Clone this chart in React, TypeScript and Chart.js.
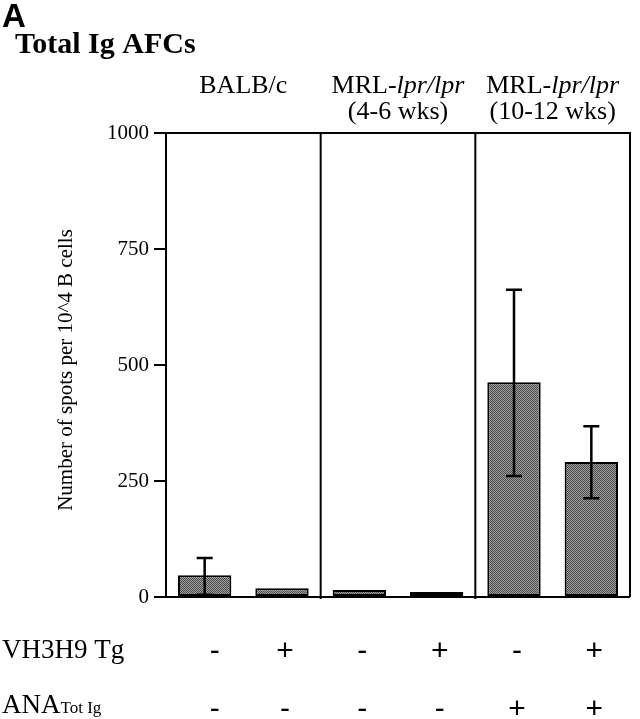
import React, { useEffect, useRef } from "react";
import { Chart, registerables } from "chart.js";

Chart.register(...registerables);

// ---- Data ----
const categories = [
  "BALB/c VH3H9-",
  "BALB/c VH3H9+",
  "MRL 4-6 VH3H9-",
  "MRL 4-6 VH3H9+",
  "MRL 10-12 VH3H9-",
  "MRL 10-12 VH3H9+",
];
const meanValues = [47, 19, 15, 11, 463, 291];
const errUpper: (number | null)[] = [84, null, null, null, 662, 368];
const errLower: (number | null)[] = [5, null, null, null, 261, 213];
const vh3h9Row = ["-", "+", "-", "+", "-", "+"];
const anaRow = ["-", "-", "-", "-", "+", "+"];
const yTickValues = [0, 250, 500, 750, 1000];
const panelStarts = [0, 2, 4];
const panelEnds = [1, 3, 5];
const panelLine1: { normal: string; italic: string }[] = [
  { normal: "BALB/c", italic: "" },
  { normal: "MRL-", italic: "lpr/lpr" },
  { normal: "MRL-", italic: "lpr/lpr" },
];
const panelLine2 = ["", "(4-6 wks)", "(10-12 wks)"];
const panelLabel = "A";
const chartTitle = "Total Ig AFCs";
const yAxisTitle = "Number of spots per 10^4 B cells";
const rowLabel1 = "VH3H9 Tg";
const rowLabel2Main = "ANA";
const rowLabel2Sub = "Tot Ig";

const SERIF = '"Liberation Serif", "Times New Roman", serif';
const SANS = '"Liberation Sans", Arial, sans-serif';

export default function App() {
  const canvasRef = useRef<HTMLCanvasElement | null>(null);

  useEffect(() => {
    const canvas = canvasRef.current;
    if (!canvas) return;
    const ctx = canvas.getContext("2d")!;

    const pc = document.createElement("canvas");
    pc.width = 2;
    pc.height = 2;
    const pctx = pc.getContext("2d")!;
    pctx.fillStyle = "#a0a0a0";
    pctx.fillRect(0, 0, 2, 2);
    pctx.fillStyle = "#4a4a4a";
    pctx.fillRect(0, 0, 1, 1);
    pctx.fillRect(1, 1, 1, 1);
    const pattern = ctx.createPattern(pc, "repeat") || "#7a7a7a";

    const overlay = {
      id: "overlay",
      afterDatasetsDraw(chart: any) {
        const c = chart.ctx as CanvasRenderingContext2D;
        const xs = chart.scales.x;
        const ys = chart.scales.y;
        const area = chart.chartArea;
        const meta = chart.getDatasetMeta(0);

        // error bars
        c.save();
        c.strokeStyle = "#000";
        c.lineWidth = 2.5;
        for (let i = 0; i < meanValues.length; i++) {
          const hi = errUpper[i];
          const lo = errLower[i];
          if (hi == null || lo == null) continue;
          const x = meta.data[i].x;
          const yH = ys.getPixelForValue(hi);
          const yL = ys.getPixelForValue(lo);
          c.beginPath();
          c.moveTo(x, yL);
          c.lineTo(x, yH);
          c.moveTo(x - 8, yH);
          c.lineTo(x + 8, yH);
          c.moveTo(x - 8, yL);
          c.lineTo(x + 8, yL);
          c.stroke();
        }
        c.restore();

        // frame + separators
        c.save();
        c.strokeStyle = "#000";
        c.lineWidth = 2;
        c.beginPath();
        c.moveTo(area.left, area.top);
        c.lineTo(area.right, area.top);
        c.lineTo(area.right, area.bottom);
        c.moveTo(area.left - 11, area.bottom);
        c.lineTo(area.right, area.bottom);
        for (let p = 0; p < panelEnds.length - 1; p++) {
          const xa = xs.getPixelForValue(panelEnds[p]);
          const xb = xs.getPixelForValue(panelStarts[p + 1]);
          const xm = (xa + xb) / 2;
          c.moveTo(xm, area.top);
          c.lineTo(xm, area.bottom + 2);
        }
        c.stroke();
        c.restore();
      },
      afterDraw(chart: any) {
        const c = chart.ctx as CanvasRenderingContext2D;
        const xs = chart.scales.x;
        c.save();
        c.fillStyle = "#000";
        c.textBaseline = "alphabetic";

        // panel label
        c.font = `bold 33px ${SANS}`;
        c.textAlign = "left";
        c.fillText(panelLabel, 2, 27);

        // title
        c.font = `bold 30px ${SERIF}`;
        c.fillText(chartTitle, 15, 53);

        // panel headers
        for (let p = 0; p < panelStarts.length; p++) {
          const cx =
            (xs.getPixelForValue(panelStarts[p]) + xs.getPixelForValue(panelEnds[p])) / 2;
          const l1 = panelLine1[p];
          c.font = `26px ${SERIF}`;
          const wN = c.measureText(l1.normal).width;
          c.font = `italic 26px ${SERIF}`;
          const wI = l1.italic ? c.measureText(l1.italic).width : 0;
          const start = cx - (wN + wI) / 2;
          c.textAlign = "left";
          c.font = `26px ${SERIF}`;
          c.fillText(l1.normal, start, 93);
          if (l1.italic) {
            c.font = `italic 26px ${SERIF}`;
            c.fillText(l1.italic, start + wN, 93);
          }
          if (panelLine2[p]) {
            c.font = `26px ${SERIF}`;
            c.textAlign = "center";
            c.fillText(panelLine2[p], cx, 119);
          }
        }

        // y axis title
        c.save();
        c.translate(66, 370);
        c.rotate(-Math.PI / 2);
        c.textAlign = "center";
        c.textBaseline = "middle";
        c.font = `21px ${SERIF}`;
        c.fillText(yAxisTitle, 0, 0);
        c.restore();

        // bottom rows
        c.textAlign = "left";
        c.font = `27px ${SERIF}`;
        c.fillText(rowLabel1, 2, 658);
        c.fillText(rowLabel2Main, 2, 713);
        const wA = c.measureText(rowLabel2Main).width;
        c.font = `17px ${SERIF}`;
        c.fillText(rowLabel2Sub, 2 + wA, 713);

        c.textAlign = "center";
        c.font = `30px ${SANS}`;
        for (let i = 0; i < categories.length; i++) {
          const x = xs.getPixelForValue(i) + (i === 0 ? 10 : 3);
          c.fillText(vh3h9Row[i], x, 660);
          c.fillText(anaRow[i], x, 718);
        }
        c.restore();
      },
    };

    const chart = new Chart(ctx, {
      type: "bar",
      data: {
        labels: categories,
        datasets: [
          {
            data: meanValues,
            backgroundColor: pattern as any,
            borderColor: "#000",
            borderWidth: 2,
            borderSkipped: false,
            barPercentage: 0.69,
            categoryPercentage: 1,
          },
        ],
      },
      options: {
        responsive: false,
        animation: false,
        layout: { padding: { left: 0, right: 10, top: 133, bottom: 122 } },
        plugins: {
          legend: { display: false },
          tooltip: { enabled: false },
          title: { display: false },
        },
        scales: {
          x: { display: false, offset: true },
          y: {
            min: 0,
            max: 1000,
            afterFit: (scale: any) => {
              scale.width = 166;
            },
            afterBuildTicks: (scale: any) => {
              scale.ticks = yTickValues.map((v) => ({ value: v }));
            },
            ticks: {
              color: "#000",
              font: { family: SERIF, size: 21 },
              padding: 5,
              callback: (v: any) => String(v),
            },
            grid: {
              drawOnChartArea: false,
              drawTicks: true,
              tickLength: 12,
              color: "#000",
              lineWidth: 2,
            },
            border: { display: true, color: "#000", width: 2 },
          },
        },
      },
      plugins: [overlay],
    });

    return () => chart.destroy();
  }, []);

  return (
    <div style={{ position: "absolute", left: 0, top: 0, width: 640, height: 719, background: "#fff" }}>
      <canvas ref={canvasRef} width={640} height={719} style={{ display: "block" }} />
    </div>
  );
}
